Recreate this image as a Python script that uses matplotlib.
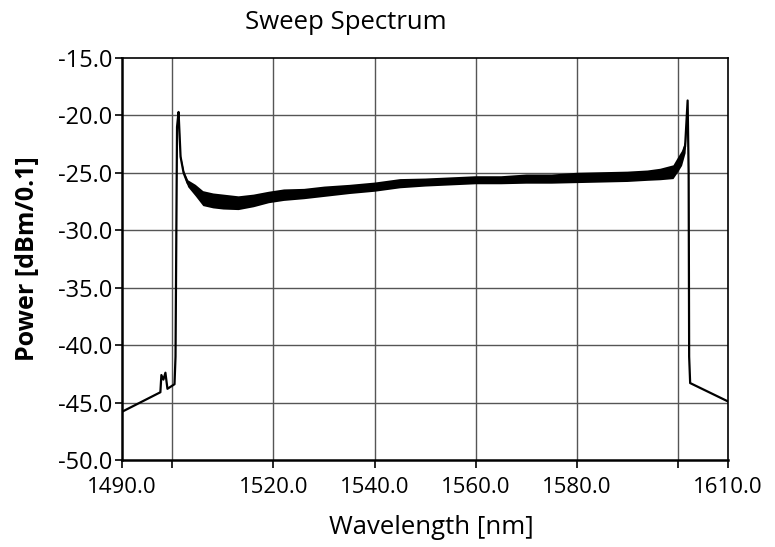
import numpy as np
import matplotlib.pyplot as plt

# Sweep spectrum
wavelength = [1490.0, 1497.6, 1497.8, 1498.2, 1498.6, 1499.0, 1500.4, 1500.6,
              1500.9, 1501.2, 1501.6, 1502.2, 1503.0, 1504.5, 1506.0, 1508.0,
              1510.0, 1513.0, 1516.0, 1519.0, 1522.0, 1526.0, 1530.0, 1535.0,
              1540.0, 1545.0, 1550.0, 1555.0, 1560.0, 1565.0, 1570.0, 1575.0,
              1580.0, 1585.0, 1590.0, 1594.0, 1596.5, 1599.1, 1600.1, 1600.8,
              1601.5, 1602.0, 1602.2, 1602.3, 1602.5, 1610.0]
power = [-45.8, -44.1, -42.6, -43.0, -42.4, -43.8, -43.4, -41.0,
         -21.0, -19.7, -23.6, -25.0, -25.9, -26.5, -27.2, -27.4,
         -27.5, -27.6, -27.4, -27.1, -26.9, -26.8, -26.6, -26.4,
         -26.2, -25.9, -25.8, -25.7, -25.6, -25.6, -25.5, -25.5,
         -25.4, -25.35, -25.3, -25.2, -25.1, -24.9, -24.2, -23.7,
         -22.7, -18.7, -25.0, -41.0, -43.3, -44.9]
# half width of the noise band around the trace
noise = [0.0, 0.0, 0.0, 0.0, 0.0, 0.0, 0.0, 0.0,
         0.0, 0.0, 0.1, 0.2, 0.3, 0.5, 0.65, 0.65,
         0.65, 0.6, 0.55, 0.5, 0.5, 0.45, 0.45, 0.4,
         0.4, 0.4, 0.35, 0.35, 0.35, 0.35, 0.4, 0.4,
         0.45, 0.45, 0.45, 0.45, 0.5, 0.6, 0.65, 0.65,
         0.55, 0.0, 0.0, 0.0, 0.0, 0.0]

x_ticks = [1490, 1500, 1520, 1540, 1560, 1580, 1600, 1610]
x_labels = ['1490.0', '', '1520.0', '1540.0', '1560.0', '1580.0', '', '1610.0']
y_ticks = [-50, -45, -40, -35, -30, -25, -20, -15]

plt.rcParams['font.family'] = ['Open Sans', 'DejaVu Sans']

fig = plt.figure(figsize=(7.75, 5.47), dpi=100)
ax = fig.add_axes([0.1574, 0.159, 0.782, 0.735])

wl = np.array(wavelength)
p = np.array(power)
hw = np.array(noise)
ax.fill_between(wl, p - hw, p + hw, color='black', lw=0, zorder=3)
ax.plot(wl, p, color='black', lw=1.6, zorder=4)

ax.set_xlim(1490, 1610)
ax.set_ylim(-50, -15)
ax.set_xticks(x_ticks)
ax.set_xticklabels(x_labels)
ax.set_yticks(y_ticks)
ax.set_yticklabels([f'{v:.1f}' for v in y_ticks])

for v in x_ticks[1:-1]:
    ax.axvline(v, color='#555555', lw=1.0, zorder=1)
for v in y_ticks[1:-1]:
    ax.axhline(v, color='#555555', lw=1.0, zorder=1)

for s in ax.spines.values():
    s.set_color('black')
    s.set_linewidth(1.2)
ax.spines['left'].set_linewidth(1.8)
ax.spines['bottom'].set_linewidth(1.8)
ax.tick_params(axis='x', length=6, width=1.2, pad=6, labelsize=16)
ax.tick_params(axis='y', length=5, width=1.2, pad=2, labelsize=17)

fig.text(0.446, 0.958, 'Sweep Spectrum', fontsize=18.5, ha='center', va='center')
fig.text(0.556, 0.036, 'Wavelength [nm]', fontsize=18.5, ha='center', va='center')
fig.text(0.036, 0.528, 'Power [dBm/0.1]', fontsize=18, fontweight='bold',
         rotation=90, ha='center', va='center')

plt.savefig('out.png', dpi=100)
